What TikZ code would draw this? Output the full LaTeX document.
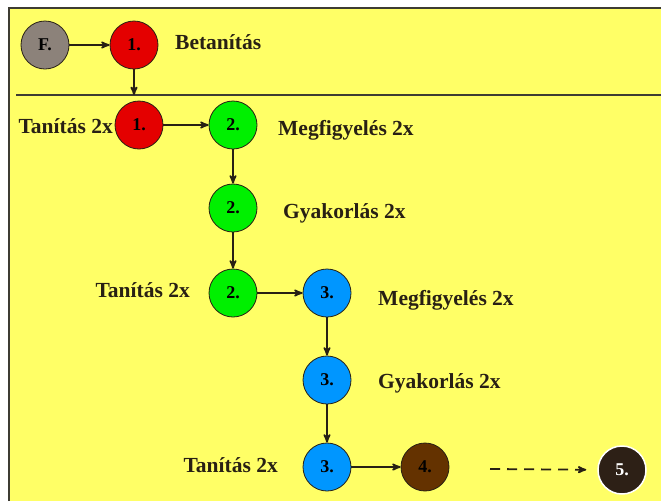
\documentclass[tikz,border=0pt]{standalone}
\usepackage{fontspec}
\setmainfont{Liberation Serif}
\usetikzlibrary{arrows}
\definecolor{bgyellow}{RGB}{255,255,102}
\definecolor{frameline}{RGB}{62,60,50}
\definecolor{ink}{RGB}{40,32,20}
\definecolor{stepred}{RGB}{228,0,0}
\definecolor{stepgreen}{RGB}{0,240,0}
\definecolor{stepblue}{RGB}{0,150,255}
\definecolor{stepbrown}{RGB}{100,50,0}
\definecolor{stepdark}{RGB}{45,32,22}
\definecolor{stepgray}{RGB}{140,130,122}
\tikzset{phase/.style={circle,draw=ink,line width=0.8pt,minimum size=48pt,inner sep=0pt,font=\fontsize{18}{18}\selectfont\bfseries}}
\tikzset{caption/.style={text=ink,inner sep=0pt,font=\fontsize{21.5}{21.5}\selectfont\bfseries}}
\tikzset{flow/.style={-stealth',ink,line width=1.8pt}}

\begin{document}
\begin{tikzpicture}[x=1pt,y=-1pt]
    \useasboundingbox (0,0) rectangle (661,501);
    \fill [bgyellow] (9,8) rectangle (661,501);
    \draw [frameline,line width=2pt] (9,501) -- (9,8) -- (661,8);
    \coordinate (sep) at (16,95);
    \draw [frameline,line width=1.8pt] (sep) -- (661,95);
    % phases
    \node [phase,fill=stepgray] (f) at (45,45) {F.};
    \node [phase,fill=stepred] (r0) at (134,45) {1.};
    \node [phase,fill=stepred] (r1) at (139,125) {1.};
    \node [phase,fill=stepgreen] (g1) at (233,125) {2.};
    \node [phase,fill=stepgreen] (g2) at (233,208) {2.};
    \node [phase,fill=stepgreen] (g3) at (233,293) {2.};
    \node [phase,fill=stepblue] (b1) at (327,293) {3.};
    \node [phase,fill=stepblue] (b2) at (327,380) {3.};
    \node [phase,fill=stepblue] (b3) at (327,467) {3.};
    \node [phase,fill=stepbrown] (n4) at (425,467) {4.};
    \node [phase,fill=stepdark,draw=white,line width=1.5pt,text=white] (n5) at (622,470) {5.};
    % captions
    \node [caption,anchor=west] (betanitas) at (175,42) {Betanítás};
    \node [caption,anchor=east] (tan1) at (113,126) {Tanítás 2x};
    \node [caption,anchor=west] (megf1) at (278,130) {Megfigyelés 2x};
    \node [caption,anchor=west] (gyak1) at (283,213) {Gyakorlás 2x};
    \node [caption,anchor=east] (tan2) at (190,290) {Tanítás 2x};
    \node [caption,anchor=west] (megf2) at (378,300) {Megfigyelés 2x};
    \node [caption,anchor=west] (gyak2) at (378,383) {Gyakorlás 2x};
    \node [caption,anchor=east] (tan3) at (278,465) {Tanítás 2x};
    % arrows
    \draw [flow] (f) -- (r0);
    \draw [flow] (r0) -- (r0 |- sep);
    \draw [flow] (r1) -- (g1);
    \draw [flow] (g1) -- (g2);
    \draw [flow] (g2) -- (g3);
    \draw [flow] (g3) -- (b1);
    \draw [flow] (b1) -- (b2);
    \draw [flow] (b2) -- (b3);
    \draw [flow] (b3) -- (n4);
    \coordinate (more) at (490,469);
    \draw [flow,dash pattern=on 10pt off 7pt,shorten >=11pt] (more) -- (n5);
\end{tikzpicture}
\end{document}
